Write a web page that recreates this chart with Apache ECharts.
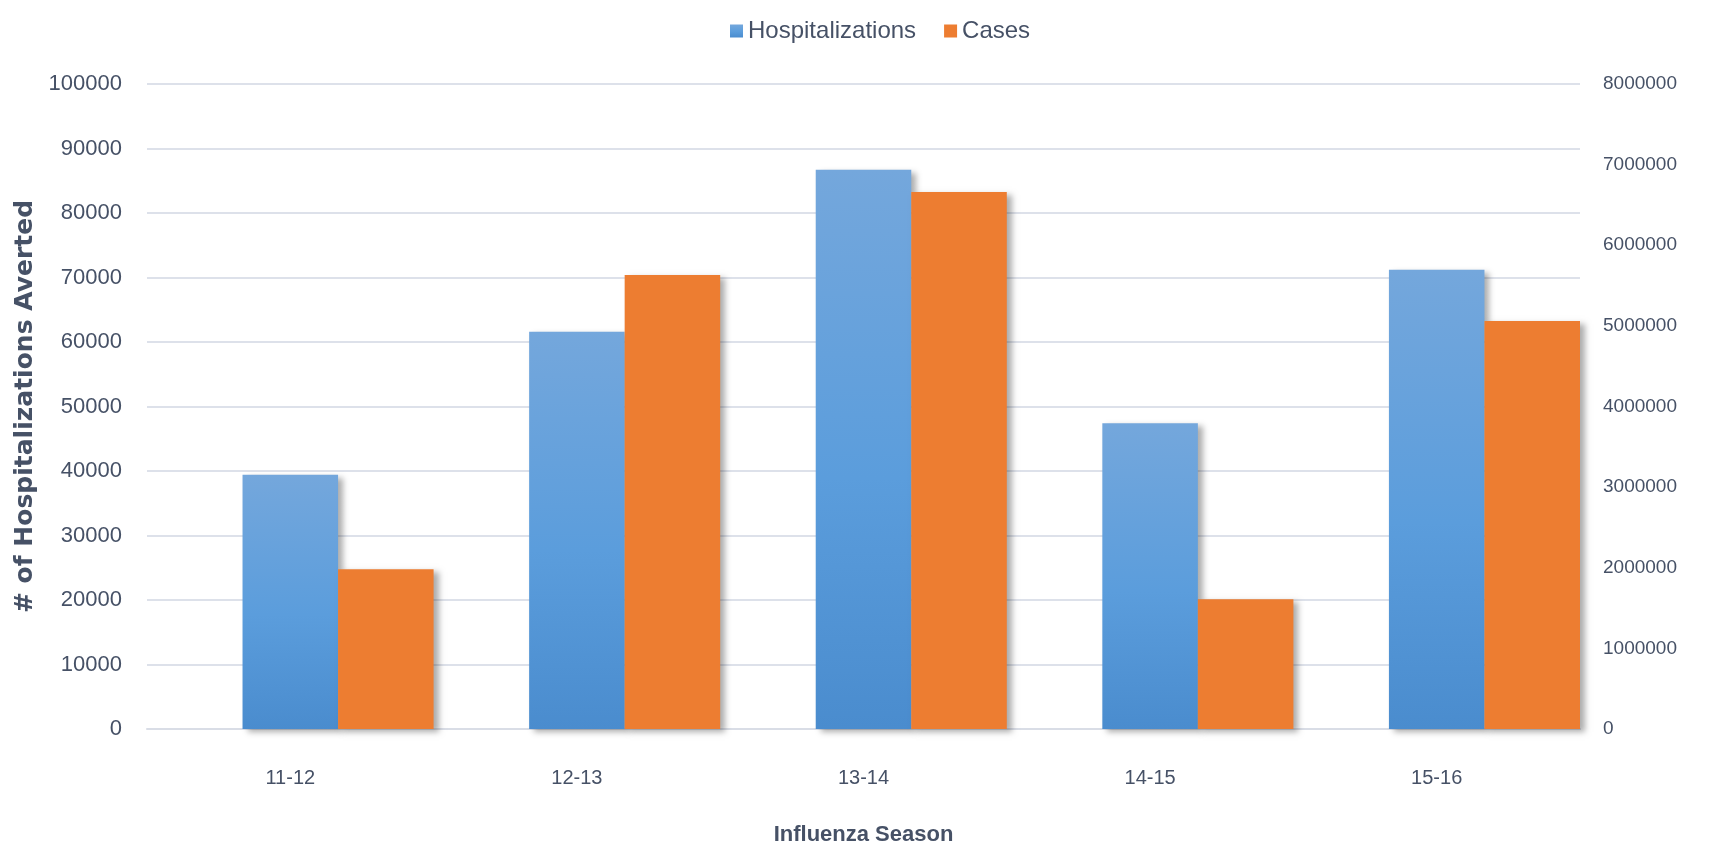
<!DOCTYPE html>
<html>
<head>
<meta charset="utf-8">
<title>Influenza Season – Hospitalizations and Cases Averted</title>
<script src="https://cdn.jsdelivr.net/npm/echarts@6/dist/echarts.min.js"></script>
<style>
  html, body { margin: 0; padding: 0; background: #ffffff; }
  #chart { width: 1710px; height: 851px; }
</style>
</head>
<body>
<div id="chart"></div>
<script>
// Seasons on the category axis
const seasons = ['11-12', '12-13', '13-14', '14-15', '15-16'];
// Hospitalizations averted (left axis)
const hospitalizations = [39400, 61600, 86700, 47400, 71200];
// Cases averted (right axis)
const cases = [1980000, 5630000, 6660000, 1610000, 5060000];
// Axis ranges
const leftMax = 100000, leftStep = 10000;
const rightMax = 8000000, rightStep = 1000000;

const textColor = '#465166';
const fontFamily = '"Liberation Sans", Arial, sans-serif';

const chart = echarts.init(document.getElementById('chart'), null, { renderer: 'canvas' });

const barShadow = {
  shadowColor: 'rgba(0, 0, 0, 0.32)',
  shadowBlur: 6,
  shadowOffsetX: 5,
  shadowOffsetY: 3
};

// plain integers, no thousands separators
const plain = (v) => String(Math.round(v));

chart.setOption({
  animation: false,
  backgroundColor: '#ffffff',
  textStyle: { fontFamily: fontFamily, color: textColor },
  legend: {
    data: ['Hospitalizations', 'Cases'],
    left: 725,
    top: 14,
    icon: 'rect',
    itemWidth: 13,
    itemHeight: 13,
    itemGap: 28,
    textStyle: { fontSize: 24, color: textColor, fontFamily: fontFamily }
  },
  grid: { left: 147, right: 130, top: 84, bottom: 116, containLabel: false },
  xAxis: {
    type: 'category',
    data: seasons,
    name: 'Influenza Season',
    nameLocation: 'middle',
    nameGap: 95,
    nameTextStyle: { fontSize: 22, fontWeight: 'bold', color: textColor },
    axisLine: { show: true, lineStyle: { color: '#d9dde6', width: 2 } },
    axisTick: { show: false },
    axisLabel: { fontSize: 20, color: textColor, margin: 39 }
  },
  yAxis: [
    {
      type: 'value',
      min: 0,
      max: leftMax,
      interval: leftStep,
      name: '# of Hospitalizations Averted',
      nameLocation: 'middle',
      nameRotate: 90,
      nameGap: 98,
      nameTextStyle: {
        fontSize: 25,
        fontWeight: 'bold',
        color: textColor,
        fontFamily: '"DejaVu Sans", "Liberation Sans", sans-serif'
      },
      axisLine: { show: false },
      axisTick: { show: false },
      axisLabel: { fontSize: 22, color: textColor, margin: 25, formatter: plain },
      splitLine: { show: true, lineStyle: { color: '#dde1ea', width: 2 } }
    },
    {
      type: 'value',
      min: 0,
      max: rightMax,
      interval: rightStep,
      position: 'right',
      axisLine: { show: false },
      axisTick: { show: false },
      axisLabel: { fontSize: 19, color: textColor, margin: 23, formatter: plain },
      splitLine: { show: false }
    }
  ],
  series: [
    {
      // empty slot that keeps each blue bar centred on its season
      name: 'slot',
      type: 'bar',
      yAxisIndex: 0,
      data: seasons.map(() => null),
      barGap: '0%',
      barCategoryGap: '0%',
      silent: true
    },
    {
      name: 'Hospitalizations',
      type: 'bar',
      yAxisIndex: 0,
      data: hospitalizations,
      barGap: '0%',
      barCategoryGap: '0%',
      itemStyle: Object.assign({
        color: new echarts.graphic.LinearGradient(0, 0, 0, 1, [
          { offset: 0, color: '#74a7dc' },
          { offset: 0.55, color: '#5b9ddc' },
          { offset: 1, color: '#4a8cce' }
        ])
      }, barShadow)
    },
    {
      name: 'Cases',
      type: 'bar',
      yAxisIndex: 1,
      data: cases,
      barGap: '0%',
      barCategoryGap: '0%',
      itemStyle: Object.assign({ color: '#ed7d31' }, barShadow)
    }
  ]
});
</script>
</body>
</html>
